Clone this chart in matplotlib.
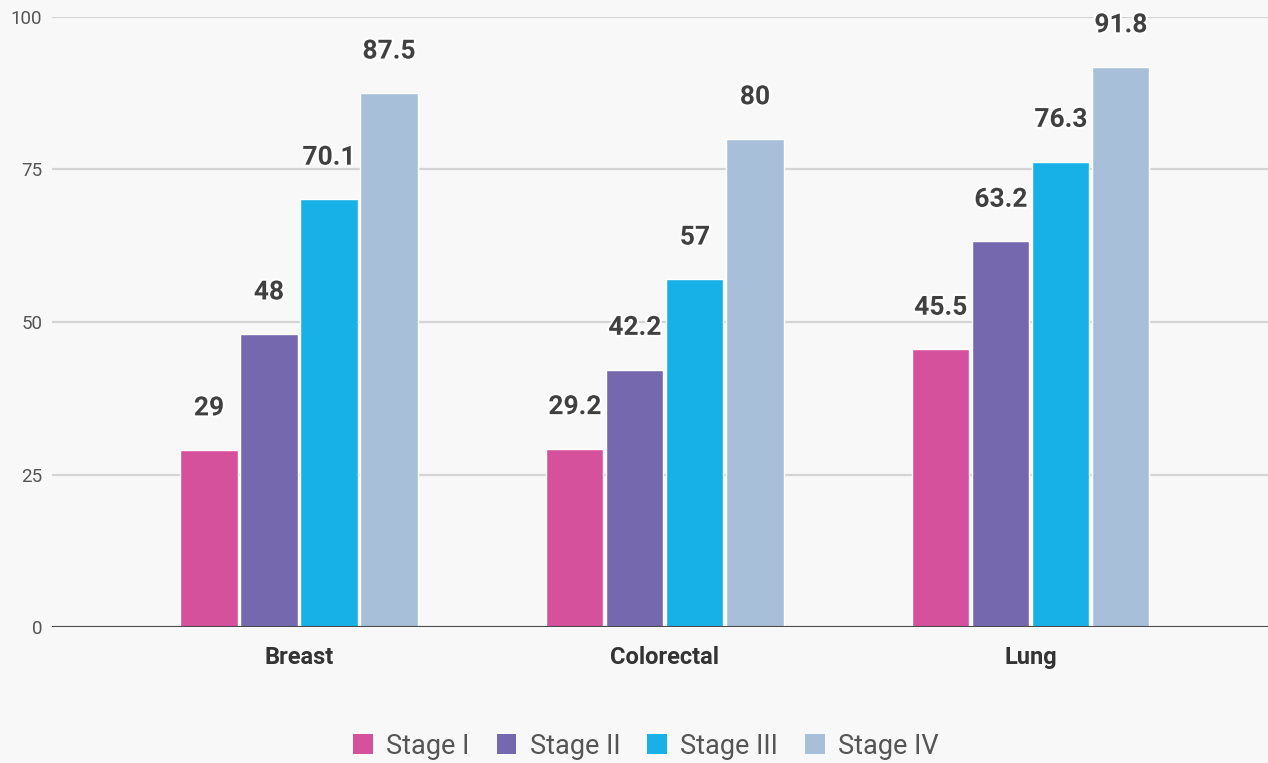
import matplotlib.pyplot as plt
import matplotlib.patheffects as pe
from matplotlib.patches import Patch
import numpy as np

plt.rcParams['font.family'] = ['Roboto', 'DejaVu Sans']

categories = ['Breast', 'Colorectal', 'Lung']
stages = ['Stage I', 'Stage II', 'Stage III', 'Stage IV']
values = [
    [29, 29.2, 45.5],
    [48, 42.2, 63.2],
    [70.1, 57, 76.3],
    [87.5, 80, 91.8],
]
value_labels = [
    ['29', '29.2', '45.5'],
    ['48', '42.2', '63.2'],
    ['70.1', '57', '76.3'],
    ['87.5', '80', '91.8'],
]
yticks = [0, 25, 50, 75, 100]
colors = ['#d6519c', '#7568ae', '#18b1e7', '#a7bfd8']

bg = '#f8f8f8'
fig = plt.figure(figsize=(12.68, 7.63), dpi=100, facecolor=bg)
ax = fig.add_axes([52 / 1268, 1 - 627 / 763, 1 - 52 / 1268, (627 - 17) / 763])
ax.set_facecolor(bg)

x = np.arange(len(categories))
step = 0.164
width = 0.156
for i, (vals, labs) in enumerate(zip(values, value_labels)):
    xs = x + (i - 1.5) * step
    ax.bar(xs, vals, width, color=colors[i], edgecolor='white', linewidth=1, zorder=3)
    for xx, v, lab in zip(xs, vals, labs):
        ax.annotate(lab, (xx, v), xytext=(0, 25), textcoords='offset points',
                    ha='center', va='baseline', fontsize=19, fontweight='bold',
                    color='#404040', zorder=5,
                    path_effects=[pe.withStroke(linewidth=3, foreground='white')])

ax.set_xlim(-0.675, 2.648)
ax.set_ylim(0, 100)
ax.set_yticks(yticks)
ax.set_yticklabels([str(t) for t in yticks])
ax.set_xticks(x)
ax.set_xticklabels(categories, fontweight='bold', fontsize=17, color='#333333')
ax.tick_params(axis='y', length=0, pad=7, labelsize=13.5, labelcolor='#555555')
ax.tick_params(axis='x', length=0, pad=14)
ax.grid(axis='y', color='#d4d4d4', linewidth=1.6, zorder=0)
ax.axhline(0, color='#4a4a4a', linewidth=1.5, zorder=4)
for s in ax.spines.values():
    s.set_visible(False)

handles = [Patch(facecolor=c, edgecolor='none') for c in colors]
fig.legend(handles, stages, loc='center', bbox_to_anchor=(646 / 1268, 1 - 746 / 763),
           ncol=4, frameon=False, fontsize=19.5, labelcolor='#555555',
           handlelength=0.72, handleheight=0.72, handletextpad=0.5,
           columnspacing=1.0, borderpad=0)

fig.savefig('out.png', dpi=100, facecolor=bg)
